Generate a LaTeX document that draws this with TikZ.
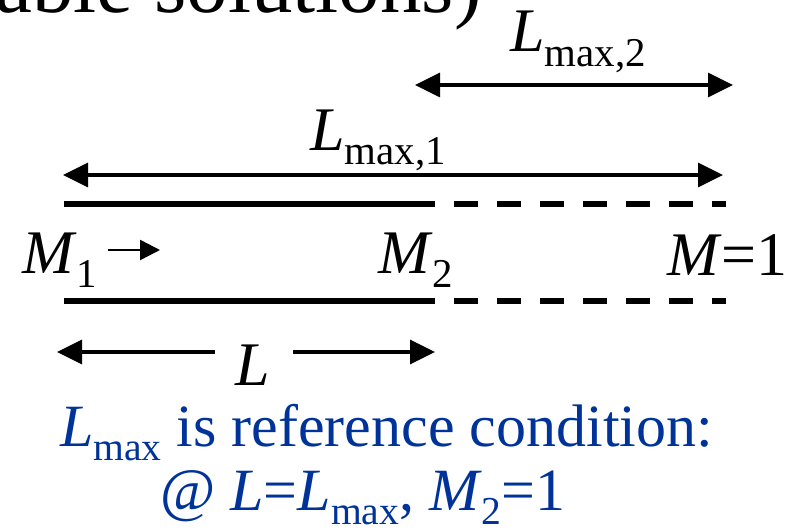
\documentclass[tikz,border=0pt]{standalone}
\usepackage{fontspec}
\setmainfont{Liberation Serif}
\usetikzlibrary{arrows.meta}
\definecolor{refblue}{RGB}{0,51,153}
\newcommand{\sbs}[1]{\raisebox{-0.24em}{\scalebox{0.66}{#1}}}
\newcommand{\var}[1]{\textit{#1}}
\tikzset{
  big/.style={inner sep=0pt,anchor=base west,font=\fontsize{62}{70}\selectfont},
  note/.style={inner sep=0pt,anchor=base west,text=refblue,font=\fontsize{60}{66}\selectfont},
  dim/.style={line width=3.5pt,{Triangle[length=25pt,width=24pt]}-{Triangle[length=25pt,width=24pt]}},
  halfdim/.style={line width=3.5pt,-{Triangle[length=25pt,width=24pt]}},
  wall/.style={line width=6pt},
  wallext/.style={line width=6pt,dash pattern=on 24pt off 19pt,dash phase=24pt},
}

\begin{document}
\begin{tikzpicture}[x=1pt,y=-1pt]
\clip (0,0) rectangle (797,532);
% cut-off title
\node[inner sep=0pt,anchor=base west,font=\fontsize{83}{86}\selectfont] (title) at (-5,13) {able solutions)};

% L_max,2
\coordinate (a2l) at (415,85);
\coordinate (a2r) at (733,85);
\draw[dim] (a2l) -- (a2r);
\node[big] (lmax2) at (510,52) {\var{L}\sbs{max,2}};

% L_max,1
\coordinate (a1l) at (63,175);
\coordinate (a1r) at (723,175);
\draw[dim] (a1l) -- (a1r);
\node[big] (lmax1) at (310,150) {\var{L}\sbs{max,1}};

% duct walls
\coordinate (tl) at (64,204);
\coordinate (tm) at (435,204);
\coordinate (tr) at (726,204);
\coordinate (bl) at (64,301);
\coordinate (bm) at (435,301);
\coordinate (br) at (726,301);
\draw[wall] (tl) -- (tm);
\draw[wallext] (tm) -- (tr);
\draw[wall] (bl) -- (bm);
\draw[wallext] (bm) -- (br);

% Mach numbers
\node[big] (m1) at (22,273) {\var{M}\sbs{1}};
\coordinate (flowa) at (108,250);
\coordinate (flowb) at (160,250);
\draw[line width=2.5pt,-{Triangle[length=20pt,width=20pt]}] (flowa) -- (flowb);
\node[big] (m2) at (378,273) {\var{M}\sbs{2}};
\node[big] (mone) at (667,275) {\var{M}=1};

% length L
\node[big] (len) at (235,385) {\var{L}};
\coordinate (la) at (215,352);
\coordinate (lb) at (57,352);
\coordinate (lc) at (293,352);
\coordinate (ld) at (435,352);
\draw[halfdim] (la) -- (lb);
\draw[halfdim] (lc) -- (ld);

% reference condition
\node[note] (ref1) at (60,446) {\var{L}\sbs{max} is reference condition:};
\node[note] (ref2) at (160,510) {@ \var{L}=\var{L}\sbs{max}, \var{M}\sbs{2}=1};
\end{tikzpicture}
\end{document}
